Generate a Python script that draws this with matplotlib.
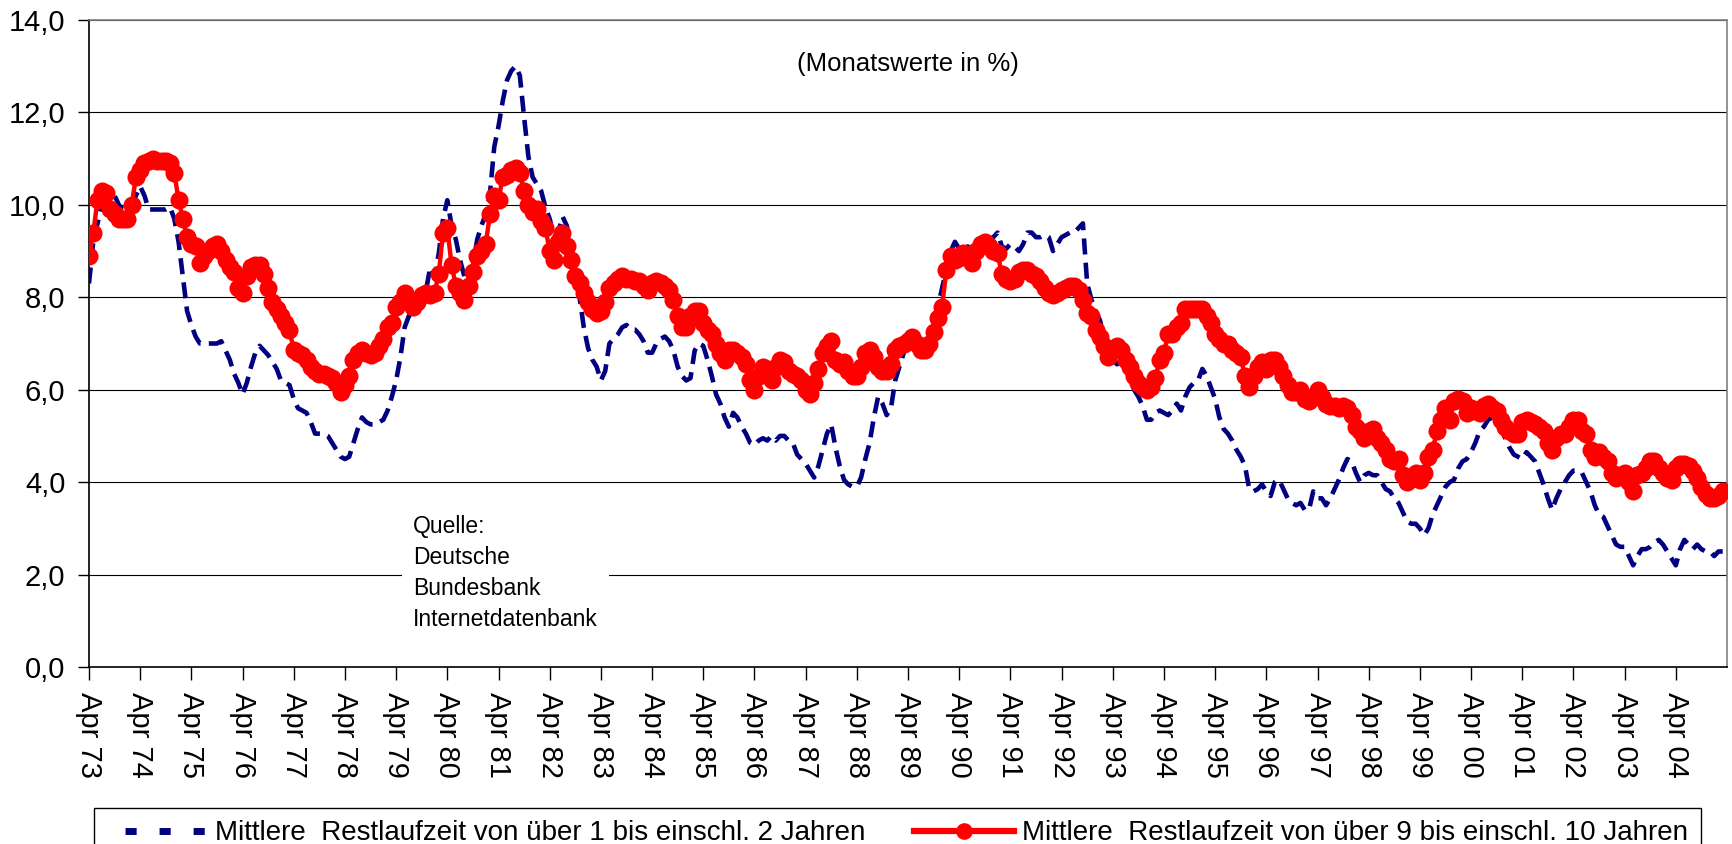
import pandas as pd
import matplotlib.pyplot as plt
from matplotlib.lines import Line2D

# Monatswerte ab April 1973, je Zeile April bis März
rates_1_2 = [
    8.3, 9.2, 9.6, 10.0, 10.1, 10.1, 10.2, 10.0, 9.9, 9.9, 10.0, 10.2,    # 73
    10.4, 10.2, 9.9, 9.9, 9.9, 9.9, 9.9, 9.95, 9.7, 9.2, 8.45, 7.7,       # 74
    7.4, 7.15, 7.0, 7.0, 7.0, 7.0, 7.0, 7.05, 6.85, 6.65, 6.35, 6.15,     # 75
    5.9, 6.15, 6.5, 6.8, 6.95, 6.85, 6.75, 6.6, 6.45, 6.2, 6.15, 6.1,     # 76
    5.8, 5.6, 5.55, 5.5, 5.3, 5.05, 5.05, 5.05, 5.0, 4.85, 4.7, 4.55,     # 77
    4.5, 4.55, 4.85, 5.15, 5.4, 5.3, 5.25, 5.25, 5.3, 5.35, 5.55, 5.85,   # 78
    6.2, 6.7, 7.35, 7.6, 7.65, 7.9, 8.0, 8.15, 8.65, 8.45, 8.95, 9.7,     # 79
    10.1, 9.55, 9.25, 8.8, 8.45, 8.5, 8.65, 9.25, 9.55, 9.8, 10.25, 11.25,  # 80
    11.7, 12.25, 12.7, 12.9, 13.0, 12.8, 11.9, 11.05, 10.6, 10.45, 10.3, 9.95,  # 81
    9.7, 9.3, 9.4, 9.75, 9.55, 9.1, 8.6, 8.0, 7.35, 6.9, 6.65, 6.5,       # 82
    6.2, 6.4, 7.0, 7.1, 7.2, 7.35, 7.4, 7.3, 7.3, 7.2, 7.05, 6.8,         # 83
    6.8, 7.0, 7.1, 7.15, 7.05, 6.85, 6.5, 6.3, 6.2, 6.25, 6.85, 7.0,      # 84
    6.95, 6.65, 6.3, 5.9, 5.7, 5.4, 5.2, 5.5, 5.4, 5.2, 5.05, 4.85,       # 85
    4.8, 4.9, 4.95, 4.9, 5.0, 4.9, 5.0, 5.0, 4.9, 4.85, 4.6, 4.5,         # 86
    4.4, 4.25, 4.1, 4.35, 4.7, 5.05, 5.25, 4.75, 4.35, 4.05, 3.95, 3.9,   # 87
    3.9, 4.1, 4.5, 4.85, 5.4, 5.85, 5.7, 5.45, 5.6, 6.2, 6.5, 6.8,        # 88
    7.0, 7.15, 7.0, 7.0, 6.9, 7.1, 7.5, 7.8, 8.2, 8.6, 9.0, 9.2,          # 89
    9.05, 9.05, 9.1, 9.0, 9.15, 9.2, 9.25, 9.25, 9.3, 9.4, 9.1, 9.05,     # 90
    9.15, 9.1, 9.0, 9.15, 9.4, 9.4, 9.3, 9.3, 9.35, 9.3, 9.0, 9.15,       # 91
    9.3, 9.35, 9.4, 9.4, 9.5, 9.6, 8.3, 7.95, 7.7, 7.5, 7.15, 6.85,       # 92
    6.65, 6.55, 6.65, 6.5, 6.2, 6.0, 5.85, 5.65, 5.35, 5.35, 5.5, 5.55,   # 93
    5.5, 5.45, 5.55, 5.7, 5.55, 5.85, 6.05, 6.15, 6.2, 6.45, 6.3, 6.05,   # 94
    5.8, 5.4, 5.15, 5.05, 4.9, 4.7, 4.55, 4.35, 3.85, 3.8, 3.85, 3.95,    # 95
    3.8, 3.7, 4.0, 4.05, 3.85, 3.65, 3.55, 3.5, 3.55, 3.4, 3.4, 3.8,      # 96
    3.65, 3.65, 3.5, 3.65, 3.85, 4.05, 4.3, 4.5, 4.45, 4.2, 4.0, 4.15,    # 97
    4.2, 4.15, 4.15, 4.0, 3.85, 3.8, 3.65, 3.55, 3.35, 3.15, 3.1, 3.1,    # 98
    3.0, 2.85, 3.0, 3.3, 3.5, 3.7, 3.9, 4.0, 4.05, 4.3, 4.45, 4.5,        # 99
    4.65, 4.85, 5.1, 5.2, 5.35, 5.4, 5.3, 5.15, 4.95, 4.75, 4.6, 4.55,    # 00
    4.5, 4.65, 4.55, 4.45, 4.2, 3.95, 3.65, 3.4, 3.65, 3.85, 4.0, 4.15,   # 01
    4.25, 4.25, 4.2, 4.0, 3.8, 3.5, 3.3, 3.25, 3.05, 2.85, 2.65, 2.6,     # 02
    2.6, 2.4, 2.2, 2.4, 2.55, 2.55, 2.6, 2.7, 2.75, 2.65, 2.5, 2.35,      # 03
    2.2, 2.55, 2.75, 2.65, 2.55, 2.65, 2.55, 2.5, 2.5, 2.4, 2.5, 2.5,     # 04
]

rates_9_10 = [
    8.9, 9.4, 10.1, 10.3, 10.25, 9.9, 9.8, 9.7, 9.7, 9.7, 10.0, 10.6,     # 73
    10.75, 10.9, 10.95, 11.0, 10.95, 10.95, 10.95, 10.9, 10.7, 10.1, 9.7, 9.3,  # 74
    9.15, 9.1, 8.75, 8.9, 9.0, 9.1, 9.15, 9.0, 8.8, 8.65, 8.55, 8.2,      # 75
    8.1, 8.45, 8.65, 8.7, 8.7, 8.5, 8.2, 7.9, 7.75, 7.6, 7.45, 7.3,       # 76
    6.85, 6.8, 6.75, 6.65, 6.5, 6.4, 6.35, 6.35, 6.3, 6.25, 6.15, 5.95,   # 77
    6.1, 6.3, 6.65, 6.8, 6.85, 6.8, 6.75, 6.8, 6.95, 7.1, 7.35, 7.45,     # 78
    7.8, 7.9, 8.1, 7.9, 7.8, 7.9, 8.05, 8.1, 8.05, 8.1, 8.5, 9.4,         # 79
    9.5, 8.7, 8.25, 8.1, 7.95, 8.25, 8.55, 8.9, 9.0, 9.15, 9.8, 10.2,     # 80
    10.1, 10.6, 10.65, 10.75, 10.8, 10.7, 10.3, 10.0, 9.85, 9.9, 9.65, 9.5,  # 81
    9.0, 8.8, 9.2, 9.4, 9.1, 8.8, 8.45, 8.3, 8.1, 7.9, 7.75, 7.65,        # 82
    7.7, 7.9, 8.2, 8.3, 8.4, 8.45, 8.4, 8.4, 8.35, 8.35, 8.25, 8.15,      # 83
    8.3, 8.35, 8.3, 8.25, 8.15, 7.95, 7.6, 7.35, 7.35, 7.6, 7.7, 7.7,     # 84
    7.45, 7.3, 7.2, 7.0, 6.8, 6.65, 6.85, 6.85, 6.8, 6.7, 6.55, 6.2,      # 85
    6.0, 6.3, 6.5, 6.45, 6.2, 6.5, 6.65, 6.6, 6.4, 6.35, 6.3, 6.2,        # 86
    6.0, 5.9, 6.15, 6.45, 6.8, 6.95, 7.05, 6.65, 6.55, 6.6, 6.4, 6.3,     # 87
    6.3, 6.5, 6.8, 6.85, 6.7, 6.5, 6.4, 6.4, 6.55, 6.85, 6.95, 7.0,       # 88
    7.05, 7.15, 7.0, 6.85, 6.85, 7.0, 7.25, 7.55, 7.8, 8.6, 8.9, 8.8,     # 89
    8.85, 8.95, 8.9, 8.75, 9.0, 9.15, 9.2, 9.1, 9.0, 8.95, 8.5, 8.4,      # 90
    8.35, 8.4, 8.55, 8.6, 8.6, 8.5, 8.45, 8.35, 8.2, 8.1, 8.05, 8.1,      # 91
    8.15, 8.2, 8.25, 8.25, 8.15, 7.95, 7.65, 7.6, 7.3, 7.15, 6.95, 6.7,   # 92
    6.85, 6.95, 6.85, 6.65, 6.5, 6.3, 6.15, 6.05, 6.0, 6.05, 6.25, 6.65,  # 93
    6.8, 7.2, 7.2, 7.35, 7.45, 7.75, 7.75, 7.75, 7.75, 7.75, 7.6, 7.45,   # 94
    7.2, 7.1, 7.0, 7.0, 6.85, 6.8, 6.7, 6.3, 6.05, 6.3, 6.5, 6.6,         # 95
    6.45, 6.65, 6.65, 6.5, 6.3, 6.1, 5.95, 5.95, 6.0, 5.8, 5.75, 5.85,    # 96
    6.0, 5.85, 5.7, 5.65, 5.65, 5.6, 5.65, 5.6, 5.45, 5.2, 5.1, 4.95,     # 97
    5.1, 5.15, 4.95, 4.85, 4.7, 4.5, 4.45, 4.5, 4.15, 4.0, 4.1, 4.2,      # 98
    4.05, 4.2, 4.55, 4.7, 5.1, 5.35, 5.6, 5.35, 5.75, 5.8, 5.75, 5.5,     # 99
    5.6, 5.55, 5.5, 5.65, 5.7, 5.6, 5.55, 5.35, 5.2, 5.1, 5.05, 5.05,     # 00
    5.3, 5.35, 5.3, 5.25, 5.2, 5.1, 4.85, 4.7, 4.95, 5.05, 5.05, 5.2,     # 01
    5.35, 5.35, 5.1, 5.05, 4.7, 4.55, 4.65, 4.55, 4.45, 4.2, 4.1, 4.15,   # 02
    4.2, 4.0, 3.8, 4.15, 4.2, 4.3, 4.45, 4.45, 4.3, 4.2, 4.1, 4.05,       # 03
    4.3, 4.4, 4.4, 4.35, 4.25, 4.1, 3.9, 3.75, 3.65, 3.65, 3.7, 3.8,      # 04
]

months = pd.date_range("1973-04-01", periods=len(rates_9_10), freq="MS")
tick_labels = [m.strftime("Apr %y") for m in months if m.month == 4]
y_ticks = [0, 2, 4, 6, 8, 10, 12, 14]
y_labels = [("%.1f" % v).replace(".", ",") for v in y_ticks]

label_1_2 = "Mittlere  Restlaufzeit von über 1 bis einschl. 2 Jahren"
label_9_10 = "Mittlere  Restlaufzeit von über 9 bis einschl. 10 Jahren"

plt.rcParams["font.family"] = ["Liberation Sans", "DejaVu Sans"]

W, H = 1732, 844
fig = plt.figure(figsize=(W / 100, H / 100), dpi=100)
ax = fig.add_axes([89 / W, 1 - 667 / H, (1727 - 89) / W, (667 - 20) / H])

x = list(range(len(months)))
navy = "#000080"

ax.plot(x, rates_1_2, color=navy, linewidth=3.3, linestyle=(0, (3.5, 1.8)),
        zorder=3)
ax.plot(x, rates_9_10, color="#FF0000", linewidth=3.2, marker="o",
        markersize=13, markeredgewidth=0, zorder=4)

ax.set_xlim(0, len(months))
ax.set_ylim(0, 14)
ax.set_yticks(y_ticks)
ax.set_yticklabels(y_labels, fontsize=21)
ax.set_xticks([i for i, m in enumerate(months) if m.month == 4])
ax.set_xticklabels(tick_labels, rotation=-90, fontsize=21)

ax.yaxis.grid(True, color="black", linewidth=0.8)
ax.set_axisbelow(True)
ax.tick_params(axis="y", length=8, width=1, pad=9)
ax.tick_params(axis="x", length=9, width=1, pad=9)

for side in ["left", "bottom"]:
    ax.spines[side].set_color("black")
    ax.spines[side].set_linewidth(1.2)
for side in ["top", "right"]:
    ax.spines[side].set_color("#808080")
    ax.spines[side].set_linewidth(1.2)

ax.text(0.5, 0.932, "(Monatswerte in %)", transform=ax.transAxes,
        ha="center", va="center", fontsize=18.5)
ax.text(0.198, 0.235, "Quelle:\nDeutsche\nBundesbank\nInternetdatenbank",
        transform=ax.transAxes, ha="left", va="top", fontsize=16.5,
        linespacing=1.45, zorder=5,
        bbox=dict(facecolor="white", edgecolor="none", pad=8))

# Legende: drei kurze Striche, wie im Original
handles = [
    Line2D([], [], color=navy, linewidth=5, linestyle=(2.3, (1.6, 3.3))),
    Line2D([], [], color="#FF0000", linewidth=4.5, marker="o",
           markersize=12, markeredgewidth=0),
]
fig.legend(handles, [label_1_2, label_9_10], loc="upper left",
           bbox_to_anchor=(94 / W, 0, (1701 - 94) / W, 1 - 808 / H),
           mode="expand", ncol=2, fontsize=20, frameon=True, fancybox=False,
           edgecolor="black", framealpha=1, handlelength=3.6,
           handletextpad=0.3, borderpad=0.45, numpoints=1,
           borderaxespad=0)

fig.savefig("out.png", dpi=100)
